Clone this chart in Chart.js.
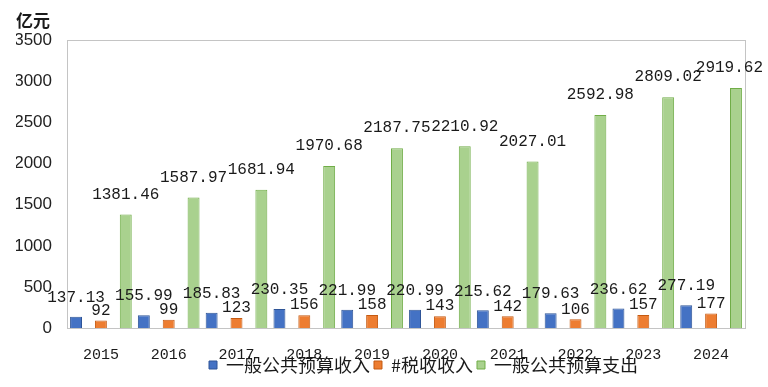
<!DOCTYPE html>
<html>
<head>
<meta charset="utf-8">
<script src="https://cdn.jsdelivr.net/npm/chart.js@4.4.1/dist/chart.umd.min.js"></script>
<style>
  html, body { margin: 0; padding: 0; background: #fff; }
  #wrap { width: 768px; height: 387px; }
</style>
</head>
<body>
<div id="wrap"><canvas id="budgetChart" width="768" height="387"></canvas></div>
<script>
// 2015-2024 budget figures (亿元)
const years = ['2015', '2016', '2017', '2018', '2019', '2020', '2021', '2022', '2023', '2024'];
const revenue = [137.13, 155.99, 185.83, 230.35, 221.99, 220.99, 215.62, 179.63, 236.62, 277.19];
const taxRevenue = [92, 99, 123, 156, 158, 143, 142, 106, 157, 177];
const expenditure = [1381.46, 1587.97, 1681.94, 1970.68, 2187.75, 2210.92, 2027.01, 2592.98, 2809.02, 2919.62];
const seriesNames = ['一般公共预算收入', '#税收收入', '一般公共预算支出'];

const MONO = '"Liberation Mono", "DejaVu Sans Mono", monospace';
const CJK = '"Noto Sans CJK SC", "Noto Sans", sans-serif';

// frame round the plot area (top + right too)
const framePlugin = {
    id: 'frame',
    beforeDatasetsDraw(chart) {
        const { ctx, chartArea: a } = chart;
        ctx.save();
        ctx.strokeStyle = '#c4c4c4';
        ctx.lineWidth = 1;
        ctx.strokeRect(Math.round(a.left) + 0.5, Math.round(a.top) + 0.5,
            Math.round(a.right - a.left), Math.round(a.bottom - a.top));
        ctx.restore();
    }
};

// value labels above each bar, kept inside the canvas
const valueLabels = {
    id: 'valueLabels',
    afterDatasetsDraw(chart) {
        const ctx = chart.ctx;
        ctx.save();
        ctx.font = '16px ' + MONO;
        ctx.fillStyle = '#1a1a1a';
        ctx.textAlign = 'center';
        ctx.textBaseline = 'middle';
        chart.data.datasets.forEach((ds, i) => {
            const meta = chart.getDatasetMeta(i);
            meta.data.forEach((bar, j) => {
                const txt = String(ds.data[j]);
                const half = ctx.measureText(txt).width / 2;
                const x = Math.min(bar.x, chart.width - 5 - half);
                ctx.fillText(txt, x, bar.y - ds.labelOffset);
            });
        });
        ctx.restore();
    }
};

// legend overlaps the year labels and sits right of centre in the original
const legendShift = {
    id: 'legendShift',
    afterLayout(chart) {
        const lg = chart.legend;
        if (!lg || !lg.lineWidths) return;
        const pad = lg.options.labels.padding;
        const start = (lg.left + pad + lg.right - lg.lineWidths[0]) / 2;
        const dx = 209 - start;
        lg.left += dx;
        lg.right += dx;
        const h = lg.height;
        lg.top = 352;
        lg.bottom = lg.top + h;
    }
};

new Chart(document.getElementById('budgetChart'), {
    type: 'bar',
    data: {
        labels: years,
        datasets: [
            {
                label: seriesNames[0],
                data: revenue,
                backgroundColor: '#4472c4',
                borderColor: '#2f5597',
                borderWidth: 1,
                labelOffset: 19
            },
            {
                label: seriesNames[1],
                data: taxRevenue,
                backgroundColor: '#ed7d31',
                borderColor: '#c55a11',
                borderWidth: 1,
                labelOffset: 10
            },
            {
                label: seriesNames[2],
                data: expenditure,
                backgroundColor: '#a9d18e',
                borderColor: '#70ad47',
                borderWidth: 1,
                labelOffset: 20
            }
        ]
    },
    options: {
        responsive: false,
        devicePixelRatio: 1,
        animation: false,
        categoryPercentage: 1.1,
        barPercentage: 0.48,
        layout: { padding: { left: 16, right: 23, top: 0, bottom: -13 } },
        scales: {
            x: {
                grid: { display: false, drawTicks: false },
                border: { display: true, color: '#c4c4c4' },
                ticks: { font: { family: MONO, size: 15 }, color: '#1a1a1a', padding: 18, maxRotation: 0 },
                afterFit(scale) { scale.height = 40; }
            },
            y: {
                min: 0,
                max: 3500,
                grid: { display: false, drawTicks: false },
                border: { display: true, color: '#c4c4c4' },
                ticks: {
                    stepSize: 500,
                    padding: 15,
                    font: { family: '"Liberation Sans", Arial, sans-serif', size: 17 },
                    color: '#222',
                    callback: v => String(v)
                },
                afterFit(scale) { scale.width = 51; }
            }
        },
        plugins: {
            title: {
                display: true,
                text: '亿元',
                align: 'start',
                color: '#1a1a1a',
                font: { family: CJK, size: 17, weight: 'bold' },
                padding: { top: 10, bottom: 10 }
            },
            legend: {
                display: true,
                position: 'bottom',
                labels: {
                    boxWidth: 8,
                    boxHeight: 8,
                    padding: 4,
                    color: '#1a1a1a',
                    font: { family: CJK, size: 18 }
                }
            },
            tooltip: { enabled: false }
        }
    },
    plugins: [framePlugin, valueLabels, legendShift]
});
</script>
</body>
</html>
